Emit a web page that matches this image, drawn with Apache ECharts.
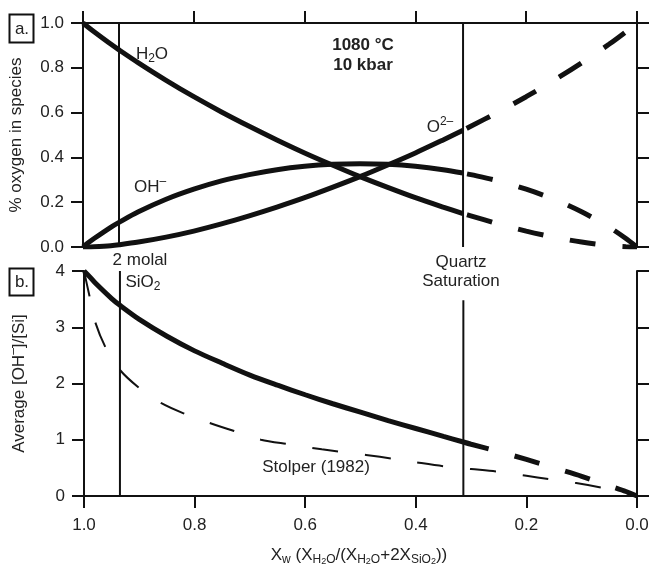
<!DOCTYPE html>
<html>
<head>
<meta charset="utf-8">
<script src="https://cdn.jsdelivr.net/npm/echarts@6/dist/echarts.min.js"></script>
<style>
  html, body { margin: 0; padding: 0; background: #fff; }
  #chart { width: 652px; height: 568px; }
</style>
</head>
<body>
<div id="chart"></div>
<script>
  // x = X_w, reversed axis (1.0 on the left)
  const xSolid = [1.0, 0.99, 0.98, 0.95, 0.935, 0.9, 0.85, 0.8, 0.75, 0.7, 0.65, 0.6, 0.55, 0.5, 0.45, 0.4, 0.35, 0.314];
  const h2oSolid = [1.0, 0.980, 0.961, 0.906, 0.880, 0.822, 0.744, 0.671, 0.603, 0.539, 0.478, 0.420, 0.366, 0.314, 0.266, 0.220, 0.178, 0.149];
  const ohSolid = [0, 0.020, 0.038, 0.088, 0.110, 0.157, 0.213, 0.258, 0.295, 0.323, 0.345, 0.360, 0.369, 0.372, 0.369, 0.360, 0.345, 0.330];
  const o2Solid = [0, 0.000, 0.001, 0.006, 0.010, 0.022, 0.044, 0.071, 0.103, 0.139, 0.178, 0.220, 0.266, 0.314, 0.366, 0.420, 0.478, 0.521];

  const xDash = [0.314, 0.3, 0.25, 0.2, 0.15, 0.1, 0.05, 0.02, 0.0];
  const h2oDash = [0.149, 0.139, 0.103, 0.071, 0.044, 0.022, 0.006, 0.001, 0];
  const ohDash = [0.330, 0.323, 0.295, 0.258, 0.213, 0.157, 0.088, 0.038, 0];
  const o2Dash = [0.521, 0.539, 0.603, 0.671, 0.744, 0.822, 0.906, 0.961, 1.0];

  // panel b: average [OH-]/[Si]
  const ratioSolid = [4.0, 3.90, 3.79, 3.51, 3.39, 3.14, 2.84, 2.58, 2.36, 2.15, 1.97, 1.80, 1.64, 1.49, 1.34, 1.20, 1.06, 0.96];
  const ratioDash = [0.96, 0.92, 0.79, 0.65, 0.50, 0.35, 0.18, 0.08, 0];

  const stolperX = [1.0, 0.99, 0.98, 0.96, 0.935, 0.9, 0.86, 0.82, 0.77, 0.73, 0.68, 0.63, 0.57, 0.49, 0.44, 0.40, 0.35, 0.30, 0.25, 0.20, 0.16, 0.11, 0.06, 0.0];
  const stolperY = [4.0, 3.55, 3.10, 2.62, 2.24, 1.92, 1.65, 1.47, 1.29, 1.16, 1.00, 0.92, 0.83, 0.73, 0.66, 0.60, 0.53, 0.48, 0.43, 0.36, 0.30, 0.23, 0.14, 0.0];

  const molalX = 0.935;
  const quartzX = 0.314;
  const quartzLineTopB = 3.48;

  const FONT = '"Liberation Sans", Arial, Helvetica, sans-serif';
  const INK = '#111';
  const TXT = '#222';

  function zip(xs, ys) { return xs.map((x, i) => [x, ys[i]]); }

  const axisLine = { show: true, onZero: false, lineStyle: { color: INK, width: 2 } };
  const axisTick = { show: true, inside: false, length: 12, lineStyle: { color: INK, width: 2 } };
  const tickLabel = { color: TXT, fontSize: 17, fontFamily: FONT };

  function curve(name, data, xi, yi, width, dash, dashOffset) {
    return {
      name: name, type: 'line', xAxisIndex: xi, yAxisIndex: yi,
      data: data, showSymbol: false, smooth: 0.3, silent: true,
      lineStyle: { color: INK, width: width, type: dash || 'solid', dashOffset: dashOffset || 0, cap: 'butt' },
      z: 3
    };
  }
  function vline(data, xi, yi) {
    return {
      type: 'line', xAxisIndex: xi, yAxisIndex: yi, data: data, showSymbol: false, silent: true,
      lineStyle: { color: INK, width: 2 }, z: 2
    };
  }

  const sub = { fontSize: 12, fontFamily: FONT, fill: TXT, verticalAlign: 'bottom', lineHeight: 12 };
  const subsub = { fontSize: 9, fontFamily: FONT, fill: TXT, verticalAlign: 'bottom', lineHeight: 7 };
  const sup = { fontSize: 12, fontFamily: FONT, fill: TXT, verticalAlign: 'top', lineHeight: 10 };
  const norm = { fontSize: 17, fontFamily: FONT, fill: TXT, lineHeight: 22 };

  function label(x, y, text, extra) {
    return {
      type: 'text', x: x, y: y, silent: true,
      style: Object.assign({
        text: text, fill: TXT, font: '17px ' + FONT,
        textAlign: 'center', textVerticalAlign: 'middle',
        rich: { n: norm, s: sub, ss: subsub, p: sup }
      }, extra || {})
    };
  }

  const chart = echarts.init(document.getElementById('chart'), null, { renderer: 'canvas' });

  chart.setOption({
    backgroundColor: '#fff',
    animation: false,
    grid: [
      { left: 82, top: 23, width: 555, height: 224 },
      { left: 82, top: 271, width: 555, height: 225 }
    ],
    xAxis: [
      {
        gridIndex: 0, type: 'value', min: 0, max: 1, interval: 0.2, inverse: true, position: 'top',
        axisLine: axisLine, axisTick: axisTick, axisLabel: { show: false }, splitLine: { show: false }
      },
      {
        gridIndex: 1, type: 'value', min: 0, max: 1, interval: 0.2, inverse: true, position: 'bottom',
        axisLine: axisLine, axisTick: axisTick, splitLine: { show: false },
        axisLabel: Object.assign({ margin: 21, formatter: v => v.toFixed(1) }, tickLabel)
      }
    ],
    yAxis: [
      {
        gridIndex: 0, type: 'value', min: 0, max: 1, interval: 0.2, position: 'left',
        axisLine: axisLine, axisTick: axisTick, splitLine: { show: false },
        axisLabel: Object.assign({ margin: 19, formatter: v => v.toFixed(1) }, tickLabel),
        name: '% oxygen in species', nameLocation: 'middle', nameGap: 58,
        nameTextStyle: { color: TXT, fontSize: 17, fontFamily: FONT }
      },
      {
        gridIndex: 0, type: 'value', min: 0, max: 1, interval: 0.2, position: 'right',
        axisLine: axisLine, axisTick: axisTick, splitLine: { show: false }, axisLabel: { show: false }
      },
      {
        gridIndex: 1, type: 'value', min: 0, max: 4, interval: 1, position: 'left',
        axisLine: axisLine, axisTick: axisTick, splitLine: { show: false },
        axisLabel: Object.assign({ margin: 19 }, tickLabel),
        name: '{n|Average [OH}{p|–}{n|]/[Si]}', nameLocation: 'middle', nameGap: 54,
        nameTextStyle: {
          color: TXT, fontSize: 17, fontFamily: FONT,
          rich: {
            n: { color: TXT, fontSize: 17, fontFamily: FONT, lineHeight: 22 },
            p: { color: TXT, fontSize: 12, fontFamily: FONT, verticalAlign: 'top', lineHeight: 10 }
          }
        }
      },
      {
        gridIndex: 1, type: 'value', min: 0, max: 4, interval: 1, position: 'right',
        axisLine: axisLine, axisTick: axisTick, splitLine: { show: false }, axisLabel: { show: false }
      }
    ],
    series: [
      vline([[molalX, 0], [molalX, 1]], 0, 0),
      vline([[quartzX, 0], [quartzX, 1]], 0, 0),
      vline([[molalX, 0], [molalX, 4]], 1, 2),
      vline([[quartzX, 0], [quartzX, quartzLineTopB]], 1, 2),

      curve('H2O', zip(xSolid, h2oSolid), 0, 0, 5),
      curve('OH-', zip(xSolid, ohSolid), 0, 0, 5),
      curve('O2-', zip(xSolid, o2Solid), 0, 0, 5),
      curve('H2O dashed', zip(xDash, h2oDash), 0, 0, 5, [26, 27], 49),
      curve('OH- dashed', zip(xDash, ohDash), 0, 0, 5, [26, 27], 49),
      curve('O2- dashed', zip(xDash, o2Dash), 0, 0, 5, [26, 27], 49),

      curve('OH/Si', zip(xSolid, ratioSolid), 1, 2, 5),
      curve('OH/Si dashed', zip(xDash, ratioDash), 1, 2, 5, [26, 27], 0),
      curve('Stolper (1982)', zip(stolperX, stolperY), 1, 2, 2, [26, 27], 0)
    ],
    graphic: [
      { type: 'rect', silent: true, shape: { x: 9.5, y: 14.5, width: 24, height: 28 }, style: { fill: 'none', stroke: INK, lineWidth: 2 } },
      label(22, 29, 'a.'),
      { type: 'rect', silent: true, shape: { x: 9.5, y: 268.5, width: 24, height: 27 }, style: { fill: 'none', stroke: INK, lineWidth: 2 } },
      label(22, 282, 'b.'),

      label(363, 45, '1080 °C', { font: 'bold 17px ' + FONT }),
      label(363, 65, '10 kbar', { font: 'bold 17px ' + FONT }),

      label(152, 54, '{n|H}{s|2}{n|O}'),
      label(150, 187, '{n|OH}{p|–}'),
      label(440, 127, '{n|O}{p|2–}'),

      label(140, 260, '2 molal'),
      label(143, 282, '{n|SiO}{s|2}'),
      label(461, 262, 'Quartz'),
      label(461, 281, 'Saturation'),
      label(316, 467, 'Stolper (1982)'),

      label(359, 555, '{n|X}{s|w}{n| (X}{s|H}{ss|2}{s|O}{n|/(X}{s|H}{ss|2}{s|O}{n|+2X}{s|SiO}{ss|2}{n|))}')
    ]
  });
</script>
</body>
</html>
